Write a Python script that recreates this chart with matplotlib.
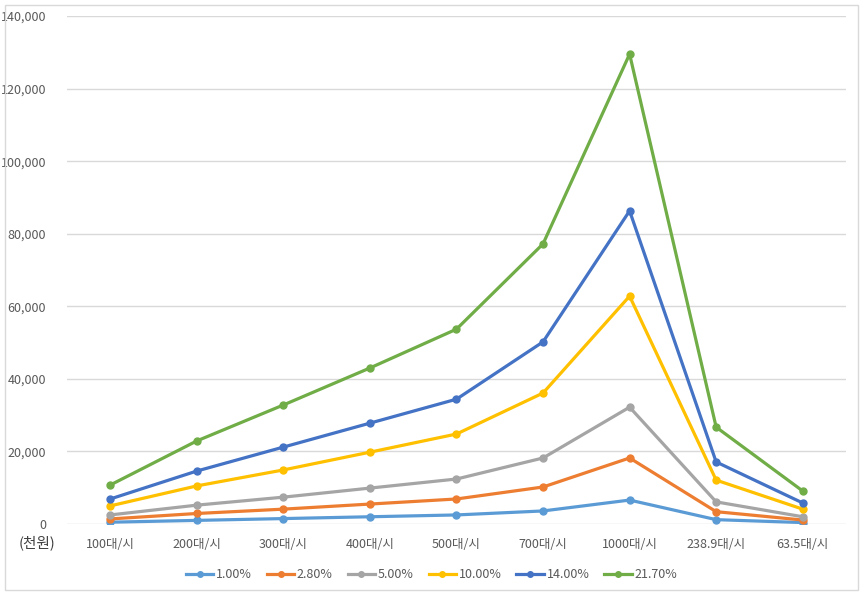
import matplotlib
matplotlib.use('Agg')
import matplotlib.pyplot as plt
from matplotlib.ticker import FuncFormatter
from matplotlib.patches import Rectangle

plt.rcParams['font.family'] = ['Noto Sans CJK KR', 'DejaVu Sans']

categories = ['100대/시', '200대/시', '300대/시', '400대/시', '500대/시',
              '700대/시', '1000대/시', '238.9대/시', '63.5대/시']
labels = ['1.00%', '2.80%', '5.00%', '10.00%', '14.00%', '21.70%']

s_1 = [500, 1000, 1500, 2000, 2500, 3600, 6600, 1200, 400]
s_28 = [1400, 2900, 4100, 5500, 6900, 10200, 18200, 3400, 1100]
s_5 = [2500, 5200, 7400, 9900, 12400, 18200, 32200, 6100, 2000]
s_10 = [5000, 10500, 14900, 19800, 24800, 36100, 62800, 12100, 4100]
s_14 = [6900, 14600, 21200, 27800, 34400, 50200, 86300, 17100, 5800]
s_217 = [10750, 22900, 32800, 43000, 53700, 77200, 129500, 26700, 9100]

series = [s_1, s_28, s_5, s_10, s_14, s_217]
colors = ['#5B9BD5', '#ED7D31', '#A5A5A5', '#FFC000', '#4472C4', '#70AD47']

fig = plt.figure(figsize=[8.63, 5.95], dpi=100)
ax = fig.add_axes([0.0776, 0.1193, 0.9027, 0.8538])

x = list(range(len(categories)))
for vals, lab, c in zip(series, labels, colors):
    ax.plot(x, vals, color=c, linewidth=2.3, marker='o', markersize=5, label=lab)

ax.set_xlim(-0.5, len(categories) - 0.5)
ax.set_ylim(0, 140000)
ax.set_yticks(range(0, 140001, 20000))
ax.yaxis.set_major_formatter(FuncFormatter(lambda v, p: f'{int(v):,}'))
ax.set_xticks(x)
ax.set_xticklabels(categories)
ax.grid(axis='y', color='#D9D9D9', linewidth=1)
ax.set_axisbelow(True)
for sp in ax.spines.values():
    sp.set_visible(False)
ax.tick_params(length=0, colors='#595959', labelsize=9)
ax.tick_params(axis='y', pad=15)
ax.tick_params(axis='x', pad=10)

fig.text(0.043, 0.087, '(천원)', fontsize=10.5, color='#404040', ha='center', va='center')

fig.legend(loc='center', bbox_to_anchor=(0.5, 0.034), ncol=6, frameon=False,
           fontsize=9, labelcolor='#595959', handlelength=2.2, handletextpad=0.2,
           columnspacing=1.2, markerscale=0.8)

fig.patches.append(Rectangle((0.006, 0.008), 0.988, 0.984, transform=fig.transFigure,
                             fill=False, edgecolor='#D9D9D9', linewidth=1))

plt.savefig('out.png', dpi=100)
